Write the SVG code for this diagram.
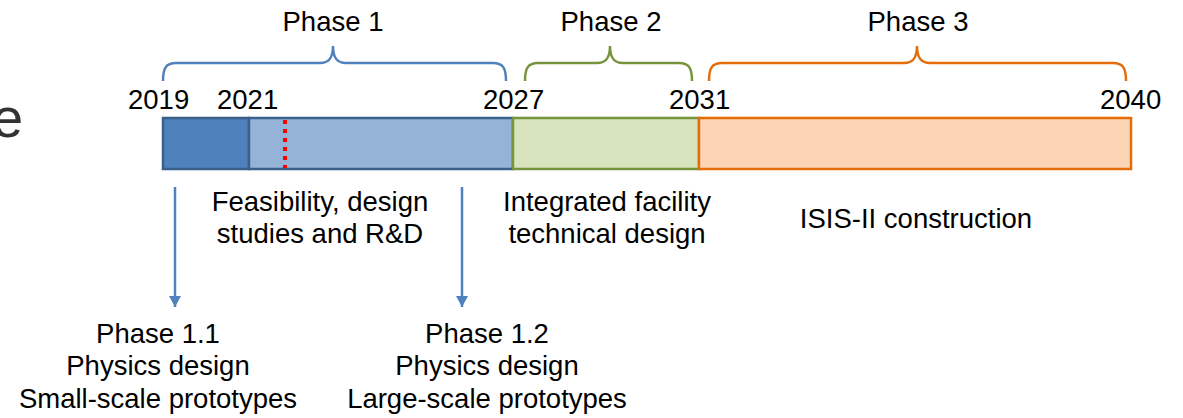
<svg xmlns="http://www.w3.org/2000/svg" width="1183" height="418" viewBox="0 0 1183 418">
<defs>
<style>
text{font-family:"Liberation Sans",Arial,sans-serif;font-size:27.5px;fill:#000}
.c{text-anchor:middle}
.brace{fill:none;stroke-width:2.5}
.arrow{stroke:#4F81BD;stroke-width:2.5;fill:none}
</style>
<marker id="ah" markerWidth="11" markerHeight="12" refX="11" refY="6" orient="auto" markerUnits="userSpaceOnUse" viewBox="0 0 11 12">
<path d="M0,0 L11,6 L0,12 z" fill="#4F81BD"/>
</marker>
</defs>
<rect width="1183" height="418" fill="#fff"/>
<text x="-8" y="137" style="font-size:56px;fill:#333">e</text>

<g id="phase1">
<path class="brace" stroke="#4F81BD" d="M163,81 C163,68 166,63 176,63 L320,63 C329,63 333,58 333,46 C333,58 337,63 346,63 L493,63 C503,63 506,68 506,81"/>
<text class="c" x="333" y="31">Phase 1</text>
<rect x="163" y="118" width="86" height="51" fill="#4F81BD" stroke="#3A5F8B" stroke-width="2.5"/>
<rect x="249" y="118" width="264" height="51" fill="#95B3D7" stroke="#3A5F8B" stroke-width="2.5"/>
<line x1="285" y1="120" x2="285" y2="168" stroke="#FF0000" stroke-width="4" stroke-dasharray="4,5"/>
<text class="c" x="320" y="211">Feasibility, design</text>
<text class="c" x="320" y="243">studies and R&amp;D</text>
</g>

<g id="phase2">
<path class="brace" stroke="#77933C" d="M525,81 C525,68 528,63 538,63 L597,63 C606,63 610,58 610,46 C610,58 614,63 623,63 L679,63 C689,63 692,68 692,81"/>
<text class="c" x="611" y="31">Phase 2</text>
<rect x="513" y="118" width="186" height="51" fill="#D7E4BD" stroke="#77933C" stroke-width="2.5"/>
<text class="c" x="607" y="211">Integrated facility</text>
<text class="c" x="607" y="243">technical design</text>
</g>

<g id="phase3">
<path class="brace" stroke="#E46C0A" d="M709,81 C709,68 712,63 722,63 L904,63 C913,63 917,58 917,46 C917,58 921,63 930,63 L1113,63 C1123,63 1126,68 1126,81"/>
<text class="c" x="918" y="31">Phase 3</text>
<rect x="699" y="118" width="432" height="51" fill="#FCD5B5" stroke="#E46C0A" stroke-width="2.5"/>
<text class="c" x="916" y="228">ISIS-II construction</text>
</g>

<g id="years">
<text x="128" y="109">2019</text>
<text x="217" y="109">2021</text>
<text x="483" y="109">2027</text>
<text x="669" y="109">2031</text>
<text x="1100" y="109">2040</text>
</g>

<g id="phase11">
<text class="c" x="158" y="343">Phase 1.1</text>
<text class="c" x="158" y="375">Physics design</text>
<text class="c" x="158" y="408">Small-scale prototypes</text>
</g>

<g id="phase12">
<text class="c" x="487" y="343">Phase 1.2</text>
<text class="c" x="487" y="375">Physics design</text>
<text class="c" x="487" y="408">Large-scale prototypes</text>
</g>

<g id="connectors">
<line class="arrow" x1="175" y1="187" x2="175" y2="307" marker-end="url(#ah)"/>
<line class="arrow" x1="462" y1="187" x2="462" y2="307" marker-end="url(#ah)"/>
</g>
</svg>
